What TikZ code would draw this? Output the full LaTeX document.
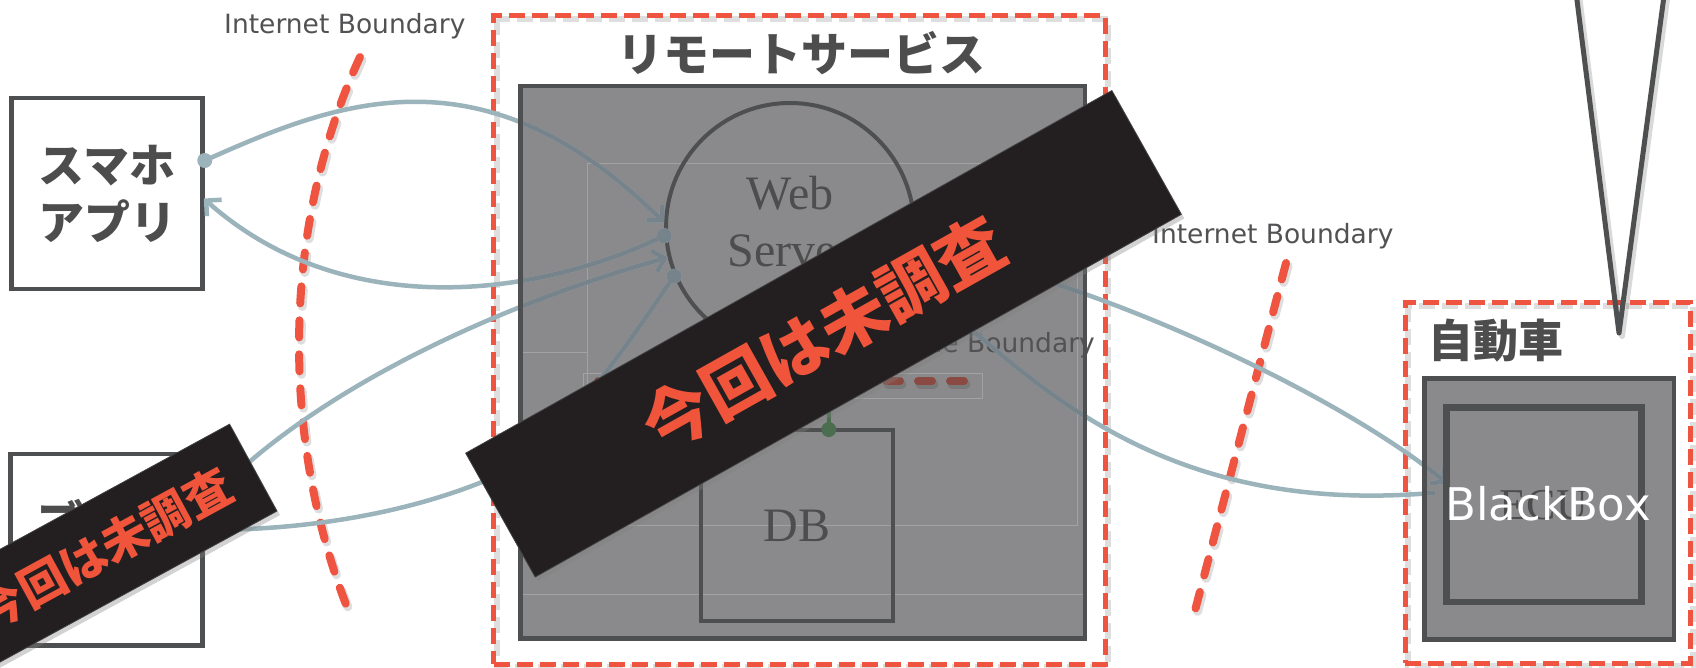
\documentclass[tikz,border=0pt]{standalone}
\usepackage{fontspec}
\setmainfont{Liberation Serif}
\newfontfamily\jpfont{Noto Sans CJK JP}
\newfontfamily\dvfont{DejaVu Sans}
\usetikzlibrary{arrows.meta,calc,shadows}
\definecolor{bred}{RGB}{239,84,64}
\definecolor{dk}{RGB}{77,79,80}
\definecolor{connL}{RGB}{155,179,187}
\definecolor{connD}{RGB}{118,131,139}
\definecolor{gfill}{RGB}{138,138,140}
\definecolor{bannerbg}{RGB}{35,31,32}
\definecolor{bannertx}{RGB}{240,85,60}
\definecolor{txt}{RGB}{77,77,78}
\definecolor{lbl}{RGB}{82,82,84}
\definecolor{mbred}{RGB}{138,74,66}
\definecolor{grn}{RGB}{75,110,80}
\definecolor{faint}{RGB}{162,162,164}

\newcommand\connectorpaths{%
  \draw[cn,-{Straight Barb[length=11pt,width=22pt]}] (sdot) .. controls (330,105) and (480,40) .. (ws.178);
  \draw[cn,-{Straight Barb[length=11pt,width=22pt]}] (ws.184) .. controls (530,300) and (340,320) .. (sarr);
  \draw[cn,-{Straight Barb[length=11pt,width=22pt]}] (bdot) .. controls (300,400) and (480,310) .. (ws.194);
  \draw[cn,-{Straight Barb[length=11pt,width=22pt]}] (ws.203) .. controls (630,340) and (560,450) .. (dmid) .. controls (400,515) and (300,530) .. (barr);
  \draw[cn,-{Straight Barb[length=11pt,width=22pt]}] (ws.-10) .. controls (1050,265) and (1320,380) .. (earr);
  \draw[cn] (ws.-23) .. controls (1010,350) and (1130,520) .. (fend);
  \fill[cndot] (sdot) circle (7.5) (ws.184) circle (7.5) (bdot) circle (7.5) (ws.203) circle (7.5);
}

\begin{document}
\begin{tikzpicture}[x=1pt,y=-1pt,
  boxline/.style={draw=dk, line width=4.5pt},
  whitebox/.style={rectangle, draw=dk, line width=4.5pt, fill=white, inner sep=0pt},
  graybox/.style={rectangle, fill=gfill, draw=none, outer sep=0pt, inner sep=0pt},
  redrect/.style={rectangle, draw=bred, line width=5pt, dash pattern=on 16pt off 7pt, inner sep=0pt},
  redshadow/.style={draw=black, opacity=0.13, line width=6pt, dash pattern=on 16pt off 7pt},
  bound/.style={draw=bred, line width=8pt, line cap=round, dash pattern=on 17pt off 17pt},
  boundshadow/.style={draw=black, opacity=0.13, line width=9pt, line cap=round, dash pattern=on 17pt off 17pt},
  jptext/.style={text=txt, font=\jpfont\bfseries\fontsize{46}{57}\selectfont, align=center, inner sep=0pt},
  serif48/.style={text=txt, font=\fontsize{48}{57}\selectfont, align=center},
  blabel/.style={text=lbl, font=\dvfont\fontsize{26.5}{30}\selectfont, inner sep=0pt},
  banner/.style={rectangle, fill=bannerbg, draw=black!75, line width=0.8pt, text=bannertx,
    inner sep=0pt, drop shadow={shadow xshift=3pt, shadow yshift=-4pt, opacity=0.35}},
  faintline/.style={draw=faint, line width=0.8pt},
]
\useasboundingbox (0,0) rectangle (1696,667);
\fill[white] (0,0) rectangle (1696,667);

% internet boundaries
\coordinate (lb1) at (360,57);
\coordinate (lb2) at (347,607);
\coordinate (rb1) at (1286,263);
\coordinate (rb2) at (1192,622);
\draw[boundshadow] ([shift={(2,3)}]lb1) .. controls (282,233) and (284,443) .. ([shift={(2,3)}]lb2);
\draw[bound] (lb1) .. controls (280,230) and (282,440) .. (lb2);
\draw[boundshadow] ([shift={(2,3)}]rb1) -- ([shift={(2,3)}]rb2);
\draw[bound] (rb1) -- (rb2);

% dashed containers
\draw[redshadow] (496.5,18.5) rectangle (1108,667);
\node[redrect, minimum width=611.5, minimum height=648.5] (rsdash) at (799.25,339.75) {};
\draw[redshadow] (1408,305.5) rectangle (1693,666.3);
\node[redrect, minimum width=285, minimum height=360.8] (cardash) at (1547.5,482.9) {};

% gray boxes (fill)
\node[graybox, minimum width=564.5, minimum height=552.3] (rsbox) at (802.75,362.15) {};
\node[graybox, minimum width=249.5, minimum height=260.6] (carbox) at (1549.25,509) {};

% faint guide lines
\draw[faintline] (587,163) rectangle (1077,525);
\draw[faintline] (rsbox.west |- 0,352) -- (587,352);
\draw[faintline] (rsbox.west |- 0,594) -- (rsbox.east |- 0,594);
\draw[faintline] (583,373) rectangle (982,398);

% inner nodes
\node[circle, draw=dk, line width=4pt, minimum size=248, inner sep=0pt] (ws) at (790,227) {};
\node[serif48] (wstext) at (790,222) {Web\\Server};
\node[rectangle, draw=dk, line width=4pt, minimum width=191.5, minimum height=191.8, inner sep=0pt, serif48] (db) at (796.75,525.4) {DB};
\node[rectangle, draw=dk, line width=4pt, minimum width=192.8, minimum height=192.3, inner sep=0pt, text=txt, font=\fontsize{44}{50}\selectfont] (ecu) at (1543.9,504.65) {ECU};
\node[blabel, anchor=base east] (mblabel) at (1095,352) {Machine Boundary};

% machine boundary dashes and green link
\coordinate (mb1) at (598,381);
\coordinate (mb2) at (964,381);
\draw[draw=black, opacity=0.12, line width=9pt, line cap=round, dash pattern=on 14pt off 18pt] ([shift={(2,3)}]mb1) -- ([shift={(2,3)}]mb2);
\draw[draw=mbred, line width=8pt, line cap=round, dash pattern=on 14pt off 18pt] (mb1) -- (mb2);
\coordinate (gdot) at ($(db.north)+(32,2)$);
\draw[draw=grn, line width=4pt] (gdot) -- (ws.-72);
\fill[grn] (gdot) circle (7.5);

% client boxes
\node[whitebox, minimum width=191, minimum height=191] (sumaho) at (107,193.5) {};
\node[jptext] (sumahotext) at (sumaho.center) {スマホ\\アプリ};
\node[whitebox, minimum width=192, minimum height=191.5] (browser) at (106.6,549.8) {};
\node[jptext] (browsertext) at (browser.center) {ブラウ\\ザ};

% connector end points
\coordinate (sdot) at ($(sumaho.east)+(0,-33)$);
\coordinate (sarr) at ($(sumaho.east)+(-1,5)$);
\coordinate (bdot) at ($(browser.east)+(0,-45)$);
\coordinate (barr) at ($(browser.east)+(0,-20)$);
\coordinate (dmid) at (482,482);
\coordinate (earr) at ($(ecu.west)+(2,-21)$);
\coordinate (fend) at ($(ecu.west)+(-10,-12)$);

% connectors: light outside, darker inside grey boxes
\begin{scope}[cn/.style={draw=connL, line width=4.5pt}, cndot/.style={fill=connL}]
\connectorpaths
\end{scope}
\begin{scope}[cn/.style={draw=connD, line width=4.5pt}, cndot/.style={fill=connD}]
\clip (rsbox.north west) rectangle (rsbox.south east) (carbox.north west) rectangle (carbox.south east);
\connectorpaths
\end{scope}

% grey box borders on top
\draw[boxline] (rsbox.north west) rectangle (rsbox.south east);
\draw[boxline] (carbox.north west) rectangle (carbox.south east);
\draw[boxline] (ecu.north west) rectangle (ecu.south east);

\node[text=white, font=\dvfont\fontsize{45}{50}\selectfont, inner sep=0pt] (bb) at (1548,504) {BlackBox};

% titles and labels
\node[jptext] (rstitle) at (801,53) {リモートサービス};
\node[jptext, font=\jpfont\bfseries\fontsize{45}{50}\selectfont] (cartitle) at (1496,341) {自動車};
\node[blabel, anchor=base west] (ib1) at (224,33) {Internet Boundary};
\node[blabel, anchor=base west] (ib2) at (1152,243) {Internet Boundary};

% callout tail
\coordinate (vtip) at (1619,333);
\coordinate (vl) at (1575.7,-10);
\coordinate (vr) at (1664.8,-10);
\draw[draw=black, opacity=0.15, line width=6pt, line join=round] ([shift={(3,3)}]vl) -- ([shift={(3,3)}]vtip) -- ([shift={(3,3)}]vr);
\draw[draw=dk, line width=5pt, line join=round] (vl) -- (vtip) -- (vr);

% banners
\node[banner, minimum width=741, minimum height=142, rotate=29.3,
      font=\jpfont\bfseries\fontsize{67}{70}\selectfont] (ban1) at (823.5,333.75) {今回は未調査};
\node[banner, minimum width=340, minimum height=99, rotate=28.6,
      font=\jpfont\bfseries\fontsize{47}{50}\selectfont] (ban2) at (104,549) {今回は未調査};
\end{tikzpicture}
\end{document}
